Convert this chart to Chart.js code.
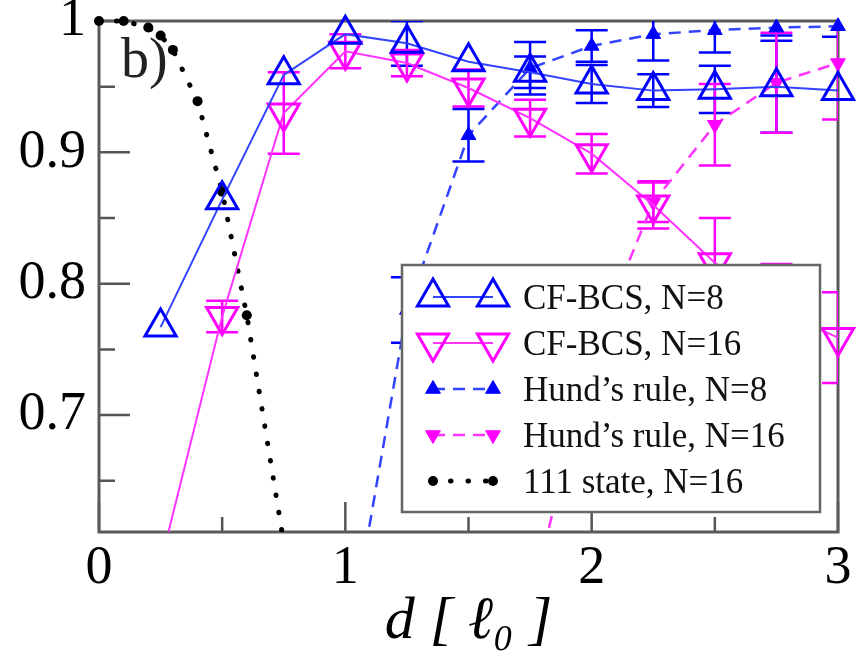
<!DOCTYPE html>
<html><head><meta charset="utf-8">
<script src="https://cdn.jsdelivr.net/npm/chart.js@4.4.1/dist/chart.umd.min.js"></script>
<style>html,body{margin:0;padding:0;background:#fff;}</style>
</head><body>
<canvas id="c" width="862" height="657"></canvas>
<script>
// ---- data ----
const dValues = [0.25, 0.5, 0.75, 1, 1.25, 1.5, 1.75, 2, 2.25, 2.5, 2.75, 3];
const cfbcs8 = [0.767, 0.864, 0.959, 0.990, 0.983, 0.969, 0.961, 0.952, 0.947, 0.948, 0.950, 0.947];
const cfbcs8Err = [0, 0, 0, 0, 0.017, 0, 0.012, 0.0145, 0.0125, 0.018, 0.035, 0];
const cfbcs16 = [0.587, 0.775, 0.930, 0.977, 0.968, 0.949, 0.926, 0.899, 0.860, 0.816, 0.780, 0.759];
const cfbcs16Err = [0.01, 0.012, 0.031, 0.013, 0.01, 0.014, 0.014, 0.015, 0.018, 0.034, 0.035, 0.0345];
const hundD8 = [1, 1.25, 1.5, 1.75, 2, 2.25, 2.5, 2.75, 3];
const hund8 = [0.51, 0.78, 0.913, 0.964, 0.981, 0.990, 0.993, 0.995, 0.996];
const hund8Err = [0.02, 0.025, 0.02, 0.02, 0.012, 0.02, 0.017, 0.006, 0.008];
const hundD16 = [1.75, 2, 2.25, 2.5, 2.75, 3];
const hund16 = [0.555, 0.748, 0.862, 0.921, 0.953, 0.968];
const hund16Err = [0.03, 0.03, 0.015, 0.031, 0.038, 0.043];
const state111D = [0, 0.1, 0.2, 0.25, 0.3, 0.4, 0.5, 0.6, 0.8];
const state111 = [1.0, 1.0, 0.995, 0.989, 0.978, 0.939, 0.870, 0.776, 0.545];
const seriesLabels = ['CF-BCS, N=8', 'CF-BCS, N=16', 'Hund\u2019s rule, N=8', 'Hund\u2019s rule, N=16', '111 state, N=16'];
const xMajorTicks = [0, 1, 2, 3];
const xMinorTicks = [0.5, 1.5, 2.5];
const yMajorTicks = [0.7, 0.8, 0.9, 1];
const yMinorTicks = [0.65, 0.75, 0.85, 0.95];
const xTitle = 'd [ \u2113\u2080 ]';
const panelLabel = 'b)';

// ---- chart ----
const BLUE = '#0000ff', MAG = '#ff00ff';
const mk = (xs, ys) => xs.map((x, i) => ({x: x, y: ys[i]}));
const CLIP = {left: 20, top: 20, right: 20, bottom: 0};
const datasets = [
  {label: seriesLabels[0], data: mk(dValues, cfbcs8), errors: cfbcs8Err, errColor: BLUE,
   borderColor: '#3344ff', borderWidth: 2, pointStyle: 'triangle', pointRadius: 18, pointRotation: 0,
   pointBorderWidth: 3, pointBorderColor: BLUE, pointBackgroundColor: 'rgba(0,0,0,0)', clip: CLIP},
  {label: seriesLabels[1], data: mk(dValues, cfbcs16), errors: cfbcs16Err, errColor: MAG,
   borderColor: '#ff33ff', borderWidth: 2, pointStyle: 'triangle', pointRadius: 18, pointRotation: 180,
   pointBorderWidth: 3, pointBorderColor: MAG, pointBackgroundColor: 'rgba(0,0,0,0)', clip: CLIP},
  {label: seriesLabels[2], data: mk(hundD8, hund8), errors: hund8Err, errColor: BLUE,
   borderColor: '#3344ff', borderWidth: 2.5, borderDash: [12, 8], pointStyle: 'triangle', pointRadius: 8.5, pointRotation: 0,
   pointBorderWidth: 1, pointBorderColor: BLUE, pointBackgroundColor: BLUE, clip: CLIP},
  {label: seriesLabels[3], data: mk(hundD16, hund16), errors: hund16Err, errColor: MAG,
   borderColor: '#ff33ff', borderWidth: 2.5, borderDash: [12, 8], pointStyle: 'triangle', pointRadius: 8.5, pointRotation: 180,
   pointBorderWidth: 1, pointBorderColor: MAG, pointBackgroundColor: MAG, clip: CLIP},
  {label: seriesLabels[4], data: mk(state111D, state111),
   borderColor: '#000', borderWidth: 5, borderDash: [0.5, 17], borderCapStyle: 'round', pointStyle: 'circle', pointRadius: 5,
   pointBorderWidth: 0, pointBorderColor: '#000', pointBackgroundColor: '#000', clip: CLIP}
];

const framePlugin = {
  id: 'frame',
  beforeDatasetsDraw(chart) {
    const c = chart.ctx, a = chart.chartArea, xs = chart.scales.x, ys = chart.scales.y;
    c.save();
    c.strokeStyle = '#555'; c.lineWidth = 2.5; c.setLineDash([]);
    c.beginPath();
    xMajorTicks.forEach(v => { const p = xs.getPixelForValue(v); c.moveTo(p, a.bottom); c.lineTo(p, a.bottom - 30); });
    xMinorTicks.forEach(v => { const p = xs.getPixelForValue(v); c.moveTo(p, a.bottom); c.lineTo(p, a.bottom - 15); });
    yMajorTicks.forEach(v => { const p = ys.getPixelForValue(v); c.moveTo(a.left, p); c.lineTo(a.left + 31, p); });
    yMinorTicks.forEach(v => { const p = ys.getPixelForValue(v); c.moveTo(a.left, p); c.lineTo(a.left + 16, p); });
    c.stroke();
    c.lineWidth = 3; c.strokeStyle = '#5a5a5a';
    c.strokeRect(a.left, a.top, a.right - a.left, a.bottom - a.top);
    c.fillStyle = '#222';
    c.font = '56px "Liberation Serif"';
    c.textBaseline = 'alphabetic'; c.textAlign = 'left';
    c.fillText(panelLabel, a.left + 22, a.top + 56);
    c.restore();
  }
};

const errorBarPlugin = {
  id: 'errbars',
  beforeDatasetsDraw(chart) {
    const c = chart.ctx, a = chart.chartArea, xs = chart.scales.x, ys = chart.scales.y;
    c.save();
    c.beginPath(); c.rect(a.left, a.top, a.right - a.left, a.bottom - a.top); c.clip();
    c.lineWidth = 2.5; c.setLineDash([]);
    chart.data.datasets.forEach(ds => {
      if (!ds.errors) return;
      c.strokeStyle = ds.errColor;
      ds.data.forEach((p, j) => {
        const e = ds.errors[j]; if (!e) return;
        const px = xs.getPixelForValue(p.x), y1 = ys.getPixelForValue(p.y + e), y2 = ys.getPixelForValue(p.y - e);
        c.beginPath();
        c.moveTo(px, y1); c.lineTo(px, y2);
        c.moveTo(px - 16, y1); c.lineTo(px + 16, y1);
        c.moveTo(px - 16, y2); c.lineTo(px + 16, y2);
        c.stroke();
      });
    });
    c.restore();
  }
};

function drawSym(c, ds, x, y) {
  c.save();
  c.setLineDash([]);
  c.fillStyle = ds.pointBackgroundColor; c.strokeStyle = ds.pointBorderColor; c.lineWidth = ds.pointBorderWidth || 0.01;
  Chart.helpers.drawPoint(c, {pointStyle: ds.pointStyle, rotation: ds.pointRotation || 0, radius: ds.pointRadius, borderWidth: ds.pointBorderWidth}, x, y);
  c.restore();
}

const legendPlugin = {
  id: 'boxLegend',
  afterDatasetsDraw(chart) {
    const c = chart.ctx;
    const bx = 402, by = 265, bw = 418, bh = 247;
    c.save();
    c.fillStyle = '#fff';
    c.fillRect(bx, by, bw, bh);
    c.strokeStyle = '#666'; c.lineWidth = 2.5; c.setLineDash([]);
    c.strokeRect(bx, by, bw, bh);
    chart.data.datasets.forEach((ds, i) => {
      const y = 297 + i * 46, x1 = 433, x2 = 493;
      c.save();
      c.strokeStyle = ds.borderColor; c.lineWidth = ds.borderWidth;
      c.setLineDash(ds.borderDash || []); c.lineCap = ds.borderCapStyle || 'butt';
      c.beginPath(); c.moveTo(x1, y); c.lineTo(x2, y); c.stroke();
      c.restore();
      drawSym(c, ds, x1, y);
      drawSym(c, ds, x2, y);
      c.fillStyle = '#111';
      c.font = '35px "Liberation Serif"';
      c.textAlign = 'left'; c.textBaseline = 'alphabetic';
      c.fillText(ds.label, 523, y + 12);
    });
    c.restore();
  }
};

new Chart(document.getElementById('c'), {
  type: 'line',
  data: {datasets: datasets},
  options: {
    responsive: false,
    animation: false,
    events: [],
    layout: {padding: {top: 19, right: 24, left: 0, bottom: 0}},
    elements: {line: {tension: 0}},
    plugins: {legend: {display: false}, tooltip: {enabled: false}},
    scales: {
      x: {
        type: 'linear', min: 0, max: 3,
        afterBuildTicks: s => { s.ticks = xMajorTicks.map(v => ({value: v})); },
        afterFit: s => { s.height = 125; s.paddingLeft = 0; s.paddingRight = 0; },
        grid: {display: false}, border: {display: false},
        ticks: {font: {family: 'Liberation Serif', size: 54, lineHeight: 1}, color: '#000', padding: 2,
                maxRotation: 0, autoSkip: false, callback: v => String(v)},
        title: {display: true, text: xTitle, color: '#000',
                font: {family: 'Liberation Serif', size: 60, style: 'italic', lineHeight: 1},
                padding: {top: 0, bottom: 5}}
      },
      y: {
        type: 'linear', min: 0.611, max: 1,
        afterBuildTicks: s => { s.ticks = yMajorTicks.map(v => ({value: v})); },
        afterFit: s => { s.width = 99; s.paddingTop = 0; s.paddingBottom = 0; },
        grid: {display: false}, border: {display: false},
        ticks: {font: {family: 'Liberation Serif', size: 54, lineHeight: 1}, color: '#000', padding: 5,
                autoSkip: false, callback: v => (v === 1 ? '1' : Number(v).toFixed(1))}
      }
    }
  },
  plugins: [framePlugin, errorBarPlugin, legendPlugin]
});
</script>
</body></html>
